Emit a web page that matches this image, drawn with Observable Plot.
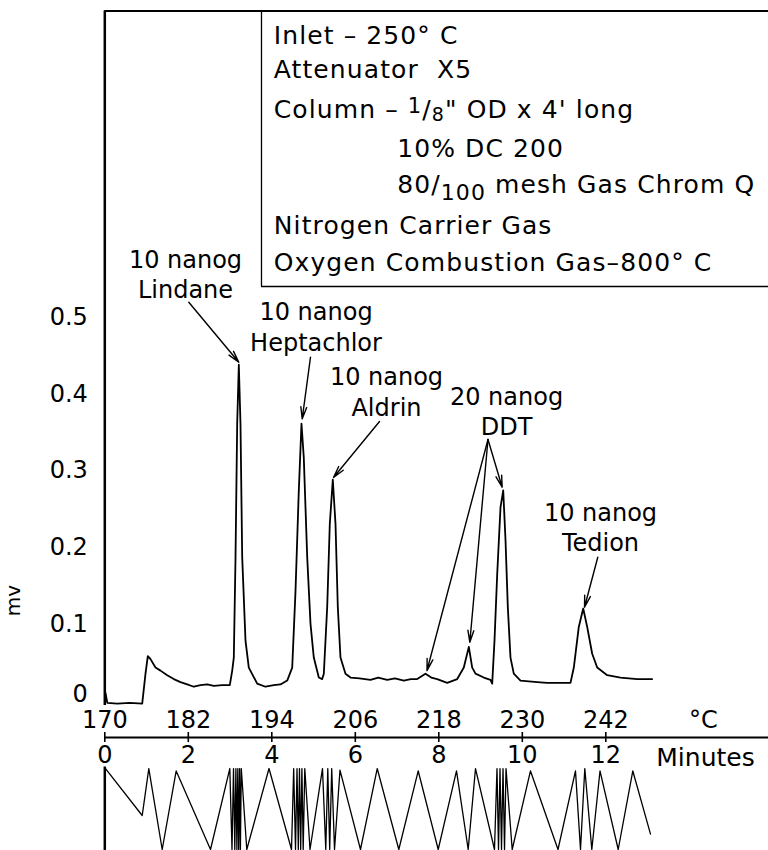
<!DOCTYPE html>
<html>
<head>
<meta charset="utf-8">
<script src="https://cdn.jsdelivr.net/npm/d3@7"></script>
<script src="https://cdn.jsdelivr.net/npm/@observablehq/plot@0.6"></script>
<style>
  html, body { margin: 0; padding: 0; background: #fff; }
  #chart svg { display: block; }
</style>
</head>
<body>
<div id="chart"></div>
<script>
// ---------------- data ----------------
// Chromatogram trace: time (minutes) and detector response (mv)
const traceMinutes = [
  0.017, 0.06, 0.3, 0.6, 0.896, 0.975, 1.030, 1.095, 1.214, 1.334, 1.495, 1.653, 1.813, 1.974,
  2.132, 2.292, 2.453, 2.611, 2.812, 2.994, 3.052, 3.090, 3.131, 3.171, 3.210, 3.250, 3.291,
  3.370, 3.449, 3.650, 3.849, 4.048, 4.208, 4.369, 4.489, 4.568, 4.647, 4.711, 4.766, 4.848,
  4.927, 5.006, 5.126, 5.207, 5.246, 5.327, 5.389, 5.461, 5.526, 5.581, 5.645, 5.765, 5.885,
  6.10, 6.364, 6.55, 6.764, 6.95, 7.162, 7.33, 7.483, 7.681, 7.82, 7.962, 8.201, 8.441, 8.599,
  8.719, 8.800, 8.879, 9.078, 9.238, 9.279, 9.334, 9.399, 9.478, 9.543, 9.598, 9.653, 9.717,
  9.796, 9.957, 10.357, 10.596, 11.154, 11.234, 11.353, 11.459, 11.554, 11.674, 11.794, 12.034,
  12.352, 12.752, 13.111
];
const traceMv = [
  0.010, -0.003, -0.004, -0.003, -0.004, 0.035, 0.058, 0.054, 0.043, 0.039, 0.033, 0.028, 0.024, 0.021,
  0.018, 0.020, 0.021, 0.019, 0.020, 0.020, 0.039, 0.056, 0.187, 0.361, 0.438, 0.361, 0.187,
  0.078, 0.043, 0.022, 0.018, 0.020, 0.021, 0.026, 0.043, 0.143, 0.274, 0.361, 0.317, 0.187,
  0.100, 0.056, 0.030, 0.028, 0.035, 0.122, 0.230, 0.288, 0.230, 0.122, 0.056, 0.035, 0.030,
  0.029, 0.027, 0.030, 0.027, 0.029, 0.026, 0.028, 0.028, 0.035, 0.030, 0.028, 0.023, 0.028, 0.043,
  0.070, 0.043, 0.035, 0.030, 0.027, 0.022, 0.078, 0.165, 0.252, 0.274, 0.209, 0.122, 0.056,
  0.035, 0.026, 0.024, 0.023, 0.023, 0.043, 0.096, 0.120, 0.096, 0.061, 0.043, 0.033,
  0.030, 0.028, 0.028
];

// Integrator pen trace: time (minutes) and pen position (% of strip width)
const integratorMinutes = [
  0.017, 0.896, 1.054, 1.375, 1.710, 2.532, 2.994, 3.047, 3.083, 3.114, 3.140, 3.164, 3.186,
  3.207, 3.229, 3.248, 3.269, 3.401, 3.933, 4.472, 4.524, 4.568, 4.604, 4.635, 4.663, 4.692,
  4.721, 4.752, 4.790, 4.915, 5.214, 5.293, 5.341, 5.387, 5.435, 5.502, 5.633, 6.124, 6.525,
  7.042, 7.507, 7.986, 8.424, 8.704, 8.879, 9.334, 9.394, 9.430, 9.466, 9.502, 9.538, 9.574,
  9.610, 9.758, 10.196, 10.855, 11.274, 11.394, 11.497, 11.665, 11.861, 12.297, 12.647, 13.071
];
const integratorPct = [
  100, 42, 100, 0, 97, 0, 100, 0, 100, 0, 100, 0, 100,
  0, 100, 0, 100, 0, 100, 0, 100, 0, 100, 0, 100, 0,
  100, 0, 100, 0, 100, 0, 100, 0, 100, 0, 98, 0, 100,
  0, 97, 0, 97, 0, 100, 0, 100, 0, 100, 0, 100, 0,
  100, 0, 97, 0, 97, 0, 100, 0, 97, 0, 97, 19
];

// Axis ticks
const yTicks = [0, 0.1, 0.2, 0.3, 0.4, 0.5];
const minuteTicks = [0, 2, 4, 6, 8, 10, 12];
const tempLabels = ["170", "182", "194", "206", "218", "230", "242"];

// Conditions box
const boxLines = [
  "Inlet \u2013 250\u00B0 C",
  "Attenuator  X5",
  "Column \u2013 1/8\" OD x 4' long",
  "10% DC 200",
  "80/100 mesh Gas Chrom Q",
  "Nitrogen Carrier Gas",
  "Oxygen Combustion Gas\u2013800\u00B0 C"
];
const boxIndent = [false, false, false, true, true, false, false];
const boxLineMv = [0.8661, 0.8226, 0.7705, 0.7196, 0.6726, 0.6183, 0.5704];

// Peak annotations
const peakLabels = ["10 nanog\nLindane", "10 nanog\nHeptachlor", "10 nanog\nAldrin", "20 nanog\nDDT", "10 nanog\nTedion"];
const peakLabelMin = [1.933, 5.059, 6.747, 9.622, 11.873];
const peakLabelMv = [0.5572, 0.4885, 0.4043, 0.3789, 0.2276];
const arrowFromMin = [2.012, 4.927, 6.580, 9.178, 9.178, 9.178, 11.808];
const arrowFromMv  = [0.5195, 0.4478, 0.3639, 0.3404, 0.3404, 0.3404, 0.1869];
const arrowToMin   = [3.210, 4.728, 5.478, 7.717, 8.743, 9.518, 11.490];
const arrowToMv    = [0.4412, 0.3674, 0.2909, 0.0391, 0.0760, 0.2782, 0.1217];

// ---------------- layout helpers (in scale units) ----------------
const xMax = 15.897;
const yMin = -0.1956, yMax = 0.913;
const frameTop = 0.8993;
const boxLeft = 3.753, boxBottom = 0.540;
const textLeft = 4.048, textIndent = 7.003;
const tempLabelY = -0.0261, axisLineY = -0.0483, tickTop = -0.0417, tickBot = -0.0548;
const minuteLabelY = -0.0717;
const intLow = -0.1943, intHigh = -0.0887;
const intY = p => intLow + p / 100 * (intHigh - intLow);

const trace = traceMinutes.map((t, i) => ({t, v: traceMv[i]}));
const integ = integratorMinutes.map((t, i) => ({t, v: intY(integratorPct[i])}));
const box = boxLines.map((s, i) => ({s, x: boxIndent[i] ? textIndent : textLeft, y: boxLineMv[i]}));
const peaks = peakLabels.map((s, i) => ({s, x: peakLabelMin[i], y: peakLabelMv[i]}));
const arrows = arrowFromMin.map((x1, i) => ({x1, y1: arrowFromMv[i], x2: arrowToMin[i], y2: arrowToMv[i]}));
const ticks = minuteTicks.map((m, i) => ({m, temp: tempLabels[i]}));

const FS = 24;
const chart = Plot.plot({
  width: 768,
  height: 850,
  marginLeft: 104.3,
  marginRight: 0,
  marginTop: 0,
  marginBottom: 0,
  x: {domain: [0, xMax], axis: null},
  y: {domain: [yMin, yMax], axis: null},
  style: {fontFamily: "'DejaVu Sans', sans-serif", color: "black", background: "white", overflow: "visible"},
  marks: [
    // frame lines
    Plot.ruleX([0], {y1: -0.0065, y2: frameTop, strokeWidth: 2.5}),
    Plot.ruleY([frameTop], {x1: 0, x2: xMax, strokeWidth: 2}),
    Plot.ruleX([boxLeft], {y1: boxBottom, y2: frameTop, strokeWidth: 1.3}),
    Plot.ruleY([boxBottom], {x1: boxLeft, x2: xMax, strokeWidth: 1.3}),
    // y tick labels
    Plot.text(yTicks.filter(d => d > 0), {x: 0, y: d => d, text: d => d.toFixed(1), textAnchor: "end", dx: -17, fontSize: FS}),
    Plot.text(yTicks.filter(d => d === 0), {x: 0, y: d => d, text: d => "0", textAnchor: "end", dx: -17, dy: -6, fontSize: FS}),
    Plot.text(["mv"], {x: -2.19, y: 0.1304, text: d => d, rotate: -90, fontSize: 20}),
    // chromatogram
    Plot.line(trace, {x: "t", y: "v", stroke: "black", strokeWidth: 1.8, curve: "linear"}),
    // conditions box text
    Plot.text(box, {x: "x", y: "y", text: "s", textAnchor: "start", fontSize: 25}),
    // peak labels and arrows
    Plot.text(peaks, {x: "x", y: "y", text: "s", fontSize: FS, lineHeight: 1.27}),
    Plot.arrow(arrows, {x1: "x1", y1: "y1", x2: "x2", y2: "y2", stroke: "black", strokeWidth: 1.4, headLength: 13, headAngle: 28}),
    // bottom axis: temperature and minutes
    Plot.text(ticks, {x: "m", y: tempLabelY, text: "temp", fontSize: FS}),
    Plot.text(["\u00B0C"], {x: 14.34, y: tempLabelY, text: d => d, fontSize: FS}),
    Plot.ruleY([axisLineY], {x1: 0, x2: xMax, strokeWidth: 2}),
    Plot.ruleX(minuteTicks, {y1: tickBot, y2: tickTop, strokeWidth: 1.6}),
    Plot.text(ticks, {x: "m", y: minuteLabelY, text: d => String(d.m), fontSize: FS}),
    Plot.text(["Minutes"], {x: 14.388, y: minuteLabelY - 0.003, text: d => d, fontSize: 25}),
    // integrator strip
    Plot.ruleX([0], {y1: yMin, y2: intHigh + 0.002, strokeWidth: 2.5}),
    Plot.line(integ, {x: "t", y: "v", stroke: "black", strokeWidth: 1.3})
  ]
});

// wider letter spacing for the conditions box (lettering-guide style)
d3.select(chart).selectAll("text").filter(function () { return boxLines.includes(this.textContent); })
  .attr("letter-spacing", "1.1px");

// fractions with raised numerator / lowered denominator
function fraction(svg, full, num, den, numStyle, denStyle) {
  d3.select(svg).selectAll("text").filter(function () { return this.textContent === full; }).each(function () {
    const key = num + "/" + den;
    const idx = full.indexOf(key);
    const before = full.slice(0, idx), after = full.slice(idx + key.length);
    const t = d3.select(this);
    t.text(null);
    t.append("tspan").text(before);
    t.append("tspan").attr("dy", numStyle.dy).attr("font-size", numStyle.size).text(num);
    t.append("tspan").attr("dy", -numStyle.dy).text("/");
    t.append("tspan").attr("dy", denStyle.dy).attr("font-size", denStyle.size).text(den);
    t.append("tspan").attr("dy", -denStyle.dy).text(after);
  });
}
fraction(chart, boxLines[2], "1", "8", {dy: -5, size: 21}, {dy: 3, size: 19});
fraction(chart, boxLines[4], "80", "100", {dy: 0, size: 25}, {dy: 7, size: 22});

document.getElementById("chart").appendChild(chart);
</script>
</body>
</html>
